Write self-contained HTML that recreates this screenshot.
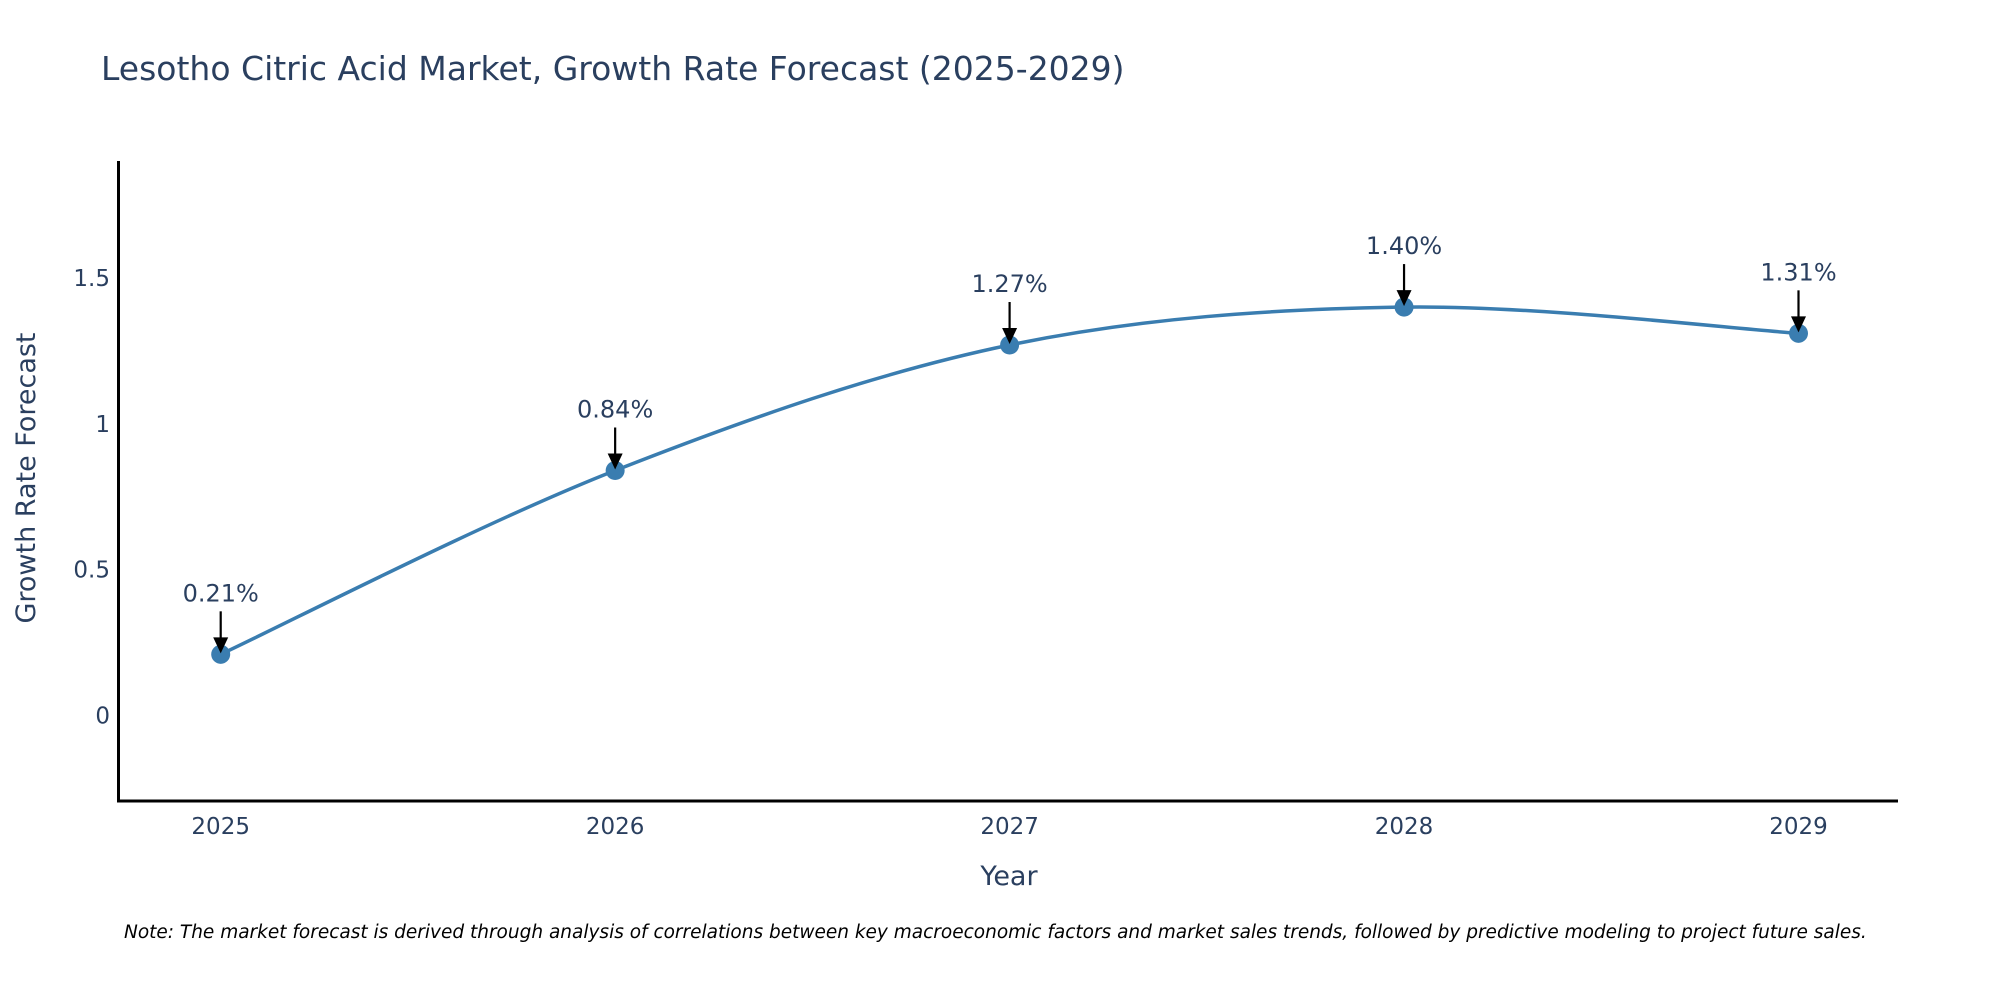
<!DOCTYPE html>
<html><head><meta charset="utf-8"><style>
html,body{margin:0;padding:0;background:#fff;}
svg{display:block;font-family:"DejaVu Sans","Liberation Sans",sans-serif;}
</style></head><body>
<svg id="chart" width="2000" height="1000" viewBox="0 0 2000 1000">
<text x="101" y="80" font-size="33" fill="#2a3f5f">Lesotho Citric Acid Market, Growth Rate Forecast (2025-2029)</text>
<g id="yticks"></g>
<g id="xticks"></g>
<line x1="118.5" y1="161" x2="118.5" y2="802" stroke="#000" stroke-width="3"/>
<line x1="117" y1="801" x2="1898" y2="801" stroke="#000" stroke-width="3"/>
<text transform="translate(35,478) rotate(-90)" text-anchor="middle" font-size="27" fill="#2a3f5f">Growth Rate Forecast</text>
<text x="1009" y="885" text-anchor="middle" font-size="27" fill="#2a3f5f">Year</text>
<path id="line" fill="none" stroke="#3a7db0" stroke-width="3.5"/>
<g id="points"></g>
<text x="124" y="938" font-size="18.5" font-style="italic" fill="#000">Note: The market forecast is derived through analysis of correlations between key macroeconomic factors and market sales trends, followed by predictive modeling to project future sales.</text>
</svg>
<script>
const years = [2025, 2026, 2027, 2028, 2029];
const growth = [0.21, 0.84, 1.27, 1.40, 1.31];
const labels = ["0.21%", "0.84%", "1.27%", "1.40%", "1.31%"];
const yTickVals = [0, 0.5, 1, 1.5];
const yTickText = ["0", "0.5", "1", "1.5"];

const NS = "http://www.w3.org/2000/svg";
function xs(v){ return 220.7 + (v - 2025) * 394.45; }
function ys(v){ return 715.6 - v * 291.8; }
function mk(tag, attrs, parent){
  const e = document.createElementNS(NS, tag);
  for (const k in attrs) e.setAttribute(k, attrs[k]);
  parent.appendChild(e); return e;
}
const yt = document.getElementById('yticks');
yTickVals.forEach((v,i)=>{
  const t = mk('text', {x:110, y: ys(v)+8, 'text-anchor':'end','font-size':23, fill:'#2a3f5f'}, yt);
  
  
  t.textContent = yTickText[i];
});
const xt = document.getElementById('xticks');
years.forEach(y=>{
  const t = mk('text', {x: xs(y), y: 834, 'text-anchor':'middle','font-size':23, fill:'#2a3f5f'}, xt);
  
  
  t.textContent = String(y);
});
const P = years.map((y,i)=>[xs(y), ys(growth[i])]);
let d = `M${P[0][0]},${P[0][1]}`;
for (let i=0;i<P.length-1;i++){
  const p0 = P[i-1]||P[i], p1=P[i], p2=P[i+1], p3=P[i+2]||P[i+1];
  const s = 1/6;
  d += ` C${p1[0]+(p2[0]-p0[0])*s},${p1[1]+(p2[1]-p0[1])*s} ${p2[0]-(p3[0]-p1[0])*s},${p2[1]-(p3[1]-p1[1])*s} ${p2[0]},${p2[1]}`;
}
document.getElementById('line').setAttribute('d', d);
const pg = document.getElementById('points');
years.forEach((y,i)=>{
  const cx = xs(y), cy = ys(growth[i]);
  const c = mk('circle', {cx, cy, r:9.5, fill:'#3a7db0'}, pg);
  
  
  const ln = mk('line', {x1:cx, y1:cy-43, x2:cx, y2:cy-14, stroke:'#000','stroke-width':2.2}, pg);
  
  
  const hd = mk('path', {d:`M${cx-7.5},${cy-17} L${cx+7.5},${cy-17} L${cx},${cy-1} Z`, fill:'#000'}, pg);
  
  
  const t = mk('text', {x:cx, y:cy-53, 'text-anchor':'middle','font-size':24, fill:'#2a3f5f'}, pg);
  
  
  t.textContent = labels[i];
});
</script>
</body></html>
